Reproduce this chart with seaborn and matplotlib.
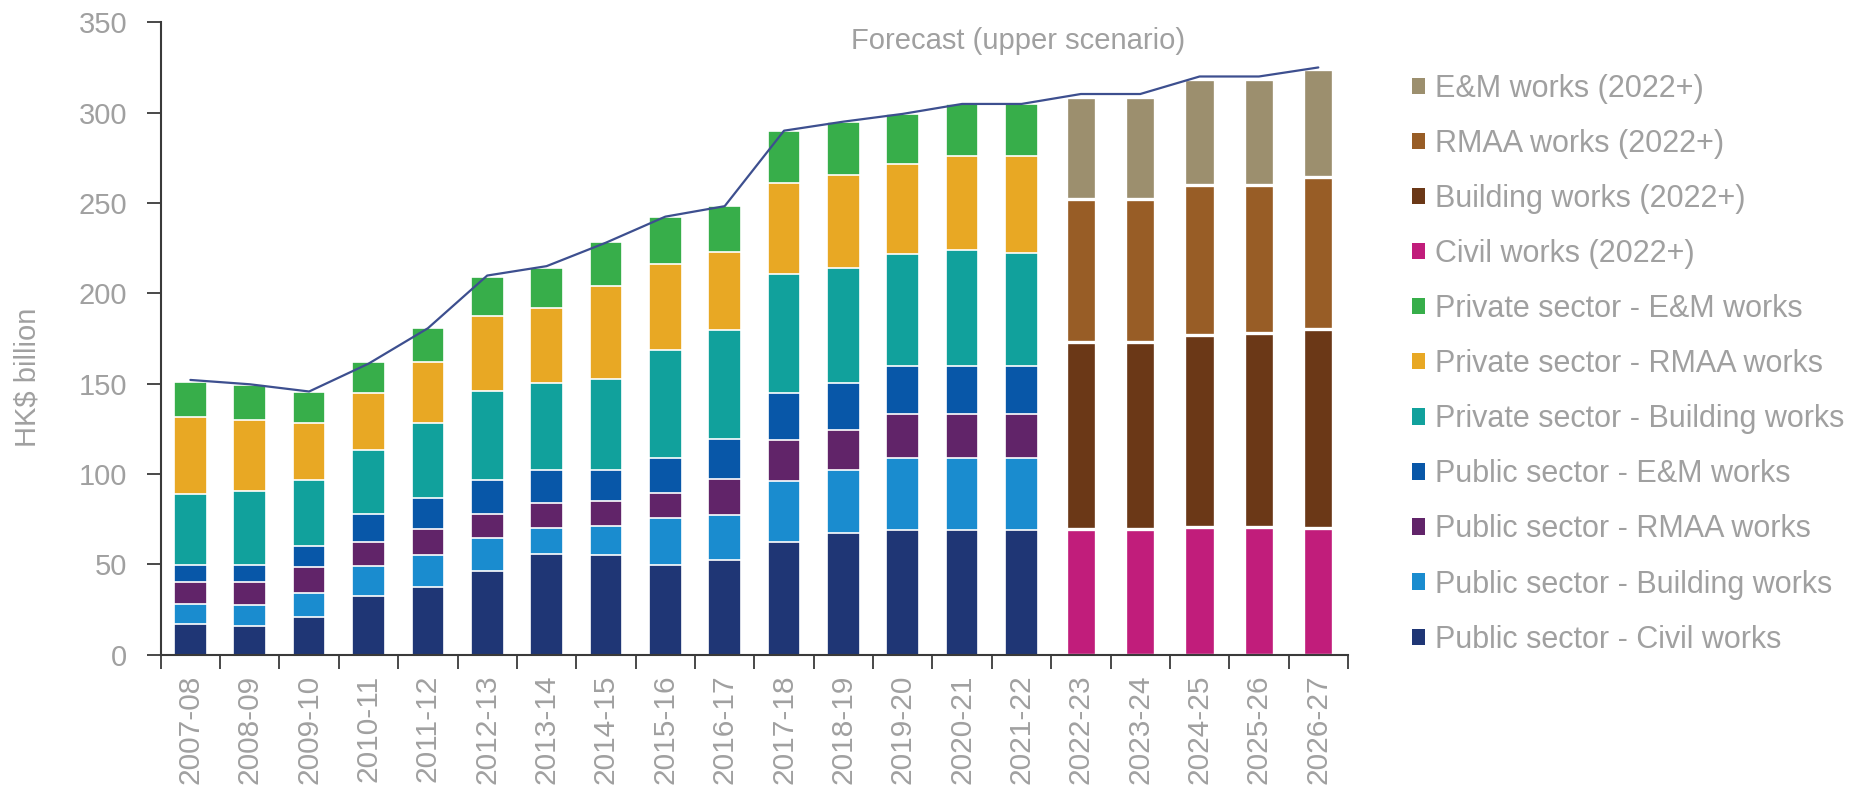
import matplotlib
matplotlib.use("Agg")
import matplotlib.pyplot as plt
from matplotlib.patches import Patch
import numpy as np
import pandas as pd
import seaborn as sns

# ---------------- data ----------------
years = ["2007-08", "2008-09", "2009-10", "2010-11", "2011-12", "2012-13", "2013-14",
         "2014-15", "2015-16", "2016-17", "2017-18", "2018-19", "2019-20", "2020-21",
         "2021-22", "2022-23", "2023-24", "2024-25", "2025-26", "2026-27"]
hist_years = years[:15]
fcst_years = years[15:]

pub_civil = [16.8, 15.6, 20.9, 32.4, 37.6, 46.0, 55.6, 54.9, 49.4, 52.3, 62.1, 67.4, 68.8, 68.8, 68.8]
pub_building = [11.2, 11.7, 13.1, 16.5, 17.3, 18.3, 14.7, 16.3, 25.9, 25.2, 34.1, 34.8, 40.1, 40.1, 40.1]
pub_rmaa = [12.0, 12.7, 14.7, 13.5, 14.6, 13.4, 13.6, 13.9, 14.1, 19.4, 22.7, 22.0, 24.2, 24.2, 24.2]
pub_em = [9.6, 9.6, 11.3, 15.3, 17.1, 18.7, 18.5, 17.3, 19.5, 22.3, 25.9, 25.9, 26.6, 26.6, 26.6]
pvt_building = [39.1, 40.8, 36.4, 35.5, 41.4, 49.4, 48.0, 50.1, 59.7, 60.4, 66.0, 63.6, 62.1, 64.3, 62.8]
pvt_rmaa = [42.7, 39.3, 31.6, 31.8, 34.0, 41.5, 41.4, 51.3, 47.4, 43.2, 50.4, 51.8, 49.7, 51.8, 53.3]
pvt_em = [19.6, 19.7, 17.6, 16.9, 19.0, 21.8, 22.3, 24.7, 26.4, 25.4, 28.8, 29.5, 27.8, 29.0, 29.0]

f_civil = [69.5, 69.5, 70.7, 70.7, 70.3]
f_building = [103.4, 103.4, 106.0, 107.5, 110.0]
f_rmaa = [79.1, 79.1, 83.5, 82.0, 84.0]
f_em = [56.9, 56.9, 58.5, 58.5, 59.7]

upper_line = [152, 149.6, 145.6, 161, 180.6, 209.8, 215, 228, 242.4, 248.2,
              290, 295, 299.3, 304.8, 304.8, 310.3, 310.3, 320, 320, 325]

hist_series = [
    ("Public sector - Civil works", pub_civil, "#1f3675"),
    ("Public sector - Building works", pub_building, "#1a8ccf"),
    ("Public sector - RMAA works", pub_rmaa, "#612469"),
    ("Public sector - E&M works", pub_em, "#0857a8"),
    ("Private sector - Building works", pvt_building, "#11a19c"),
    ("Private sector - RMAA works", pvt_rmaa, "#e8a824"),
    ("Private sector - E&M works", pvt_em, "#37ae4a"),
]
fcst_series = [
    ("Civil works (2022+)", f_civil, "#c11d7b"),
    ("Building works (2022+)", f_building, "#6b3817"),
    ("RMAA works (2022+)", f_rmaa, "#985d26"),
    ("E&M works (2022+)", f_em, "#9c8f6e"),
]

GRAY = "#a0a0a0"
DARK = "#3a3a3a"

sns.set_style("white")
plt.rcParams["font.family"] = ["Liberation Sans", "DejaVu Sans"]

W, H = 1851, 786
fig = plt.figure(figsize=(W / 100, H / 100), dpi=100)
ax = fig.add_axes([160.7 / W, 1 - 654.5 / H, (1348 - 160.7) / W, (654.5 - 22.3) / H])


def draw_stack(series, sub_years, width, lw):
    cum = np.cumsum([s[1] for s in series], axis=0)
    for i in range(len(series) - 1, -1, -1):
        df = pd.DataFrame({"year": sub_years, "value": cum[i]})
        sns.barplot(data=df, x="year", y="value", order=years, color=series[i][2],
                    saturation=1, width=width, edgecolor="white", linewidth=lw,
                    errorbar=None, ax=ax)


draw_stack(hist_series, hist_years, 0.55, 1.2)
draw_stack(fcst_series, fcst_years, 0.51, 2.4)

sns.lineplot(x=np.arange(len(years)), y=upper_line, color="#3d4f8f", linewidth=1.6, ax=ax)

ax.set_xlim(-0.5, len(years) - 0.5)
ax.set_ylim(0, 350)
ax.set_xlabel("")
ax.set_ylabel("")

# axes styling
for side in ["top", "right"]:
    ax.spines[side].set_visible(False)
for side in ["left", "bottom"]:
    ax.spines[side].set_color(DARK)
    ax.spines[side].set_linewidth(1.5)

ax.set_yticks(np.arange(0, 351, 50))
ax.tick_params(axis="y", which="major", length=10, width=1.3, color=DARK, direction="out",
               labelsize=21, labelcolor=GRAY, pad=14, left=True)
ax.set_xticks(np.arange(len(years)))
ax.set_xticklabels(years, rotation=90)
ax.tick_params(axis="x", which="major", length=0, labelsize=21.5, labelcolor=GRAY, pad=14.5)
ax.set_xticks(np.arange(-0.5, len(years)), minor=True)
ax.tick_params(axis="x", which="minor", length=10, width=1.3, color=DARK, direction="out", bottom=True)

ax.text(13.95, 335, "Forecast (upper scenario)", ha="center", va="baseline",
        fontsize=21, color=GRAY)

fig.text(27 / W, 1 - 377.5 / H, "HK$ billion", rotation=90, ha="center", va="center",
         fontsize=21, color=GRAY)

all_series = hist_series + fcst_series
handles = [Patch(facecolor=c, edgecolor="none") for _, _, c in all_series][::-1]
labels = [n for n, _, _ in all_series][::-1]
fig.legend(handles, labels, loc="upper left", bbox_to_anchor=(1411.7 / W, 1 - 74 / H),
           frameon=False, fontsize=22, handlelength=0.44, handleheight=0.44,
           handletextpad=0.33, labelspacing=0.82, borderpad=0, borderaxespad=0,
           labelcolor=GRAY)

fig.savefig("out.png", dpi=100)
